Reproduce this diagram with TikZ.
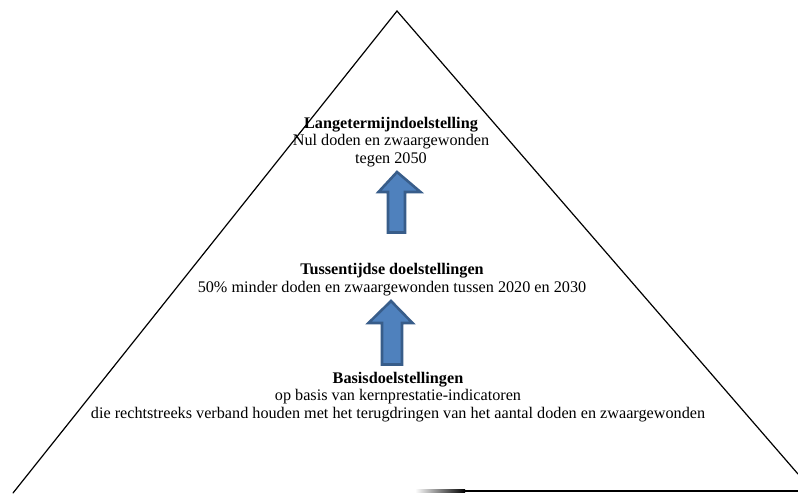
\documentclass[tikz,border=0pt]{standalone}
\usepackage{fontspec}
\setmainfont{Liberation Serif}
\definecolor{arrowfill}{HTML}{4F81BD}
\definecolor{arrowline}{HTML}{385D8A}
\begin{document}
\begin{tikzpicture}[x=1pt,y=-1pt,
  blocktext/.style={font=\fontsize{16.2}{17.5}\selectfont, align=center, inner sep=0pt, anchor=base},
  arrowbox/.style={draw=arrowline, fill=arrowfill, line width=2.6pt, line join=miter},
  tri/.style={line width=1.2pt, line cap=round}]
\useasboundingbox (0,0) rectangle (798,493);
% triangle
\coordinate (apex) at (397,11);
\coordinate (bl) at (13,493);
\coordinate (br) at (798,474);
\draw[tri] (bl) -- (apex) -- (br);
\coordinate (bs) at (415,491);
\coordinate (be) at (798,491);
\shade[left color=white, right color=black] (415,489.8) rectangle (465,492.2);
\fill[black] (465,489.8) rectangle (798,492.2);
% texts (anchor = baseline of last line)
\node[blocktext] (lange) at (391,163) {\textbf{Langetermijndoelstelling}\\Nul doden en zwaargewonden\\tegen 2050};
\node[blocktext] (tussen) at (392,292) {\textbf{Tussentijdse doelstellingen}\\50\% minder doden en zwaargewonden tussen 2020 en 2030};
\node[blocktext] (basis) at (398,418) {\textbf{Basisdoelstellingen}\\op basis van kernprestatie-indicatoren\\die rechtstreeks verband houden met het terugdringen van het aantal doden en zwaargewonden};
% arrows
\draw[arrowbox] (397,172) -- (420.5,192) -- (405,192) -- (405,232.5) -- (388,232.5) -- (388,192) -- (378.5,192) -- cycle;
\draw[arrowbox] (391,301) -- (412.5,323) -- (402,323) -- (402,364.5) -- (382,364.5) -- (382,323) -- (368.5,323) -- cycle;
\end{tikzpicture}
\end{document}
